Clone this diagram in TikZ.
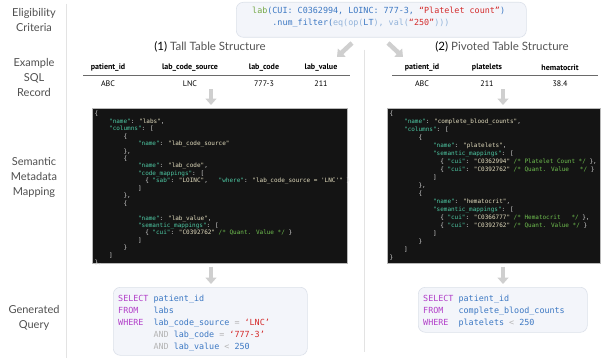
\documentclass[tikz,border=0pt]{standalone}
\usepackage{fontspec}
\setmainfont{Lato}
\newfontfamily\codefont{DejaVu Sans Mono}
\newfontfamily\tabfont{PT Sans}
\usetikzlibrary{arrows.meta}

\definecolor{labelgray}{HTML}{505050}
\definecolor{titlegray}{HTML}{555555}
\definecolor{rulegray}{HTML}{E3E3E3}
\definecolor{tablerule}{HTML}{6A6A6A}
\definecolor{arrowgray}{HTML}{CFCFCF}
\definecolor{boxfill}{HTML}{F3F5FA}
\definecolor{boxline}{HTML}{DCE1EA}
\definecolor{darkbg}{HTML}{141414}
\definecolor{jsonedge}{HTML}{B8B8B8}
\definecolor{jkey}{HTML}{4EC9A4}
\definecolor{jstr}{HTML}{E3DDBE}
\definecolor{jpunct}{HTML}{DADADA}
\definecolor{jcomm}{HTML}{6FBF4F}
\definecolor{qkw}{HTML}{B23FC9}
\definecolor{qid}{HTML}{3C78C3}
\definecolor{qstr}{HTML}{D42A2A}
\definecolor{qdim}{HTML}{B5B5B5}
\definecolor{qlight}{HTML}{92B3DA}
\definecolor{qgreen}{HTML}{74A846}

% code helpers
\newcommand\pad[1]{\hspace*{#1\fontcharwd\font`0}}
\newcommand\jk[1]{\textcolor{jkey}{"#1"}}
\newcommand\js[1]{\textcolor{jstr}{"#1"}}
\newcommand\jc[1]{\textcolor{jcomm}{#1}}
\newcommand\sq{\textquotesingle}
\newcommand\kw[1]{\textcolor{qkw}{#1}}
\newcommand\qi[1]{\textcolor{qid}{#1}}
\newcommand\qd[1]{\textcolor{qdim}{#1}}
\newcommand\qs[1]{\textcolor{qstr}{#1}}

\tikzset{
  rowlabel/.style={font=\fontsize{11}{15}\selectfont, text=labelgray, align=center, inner sep=0pt},
  tabletitle/.style={font=\fontsize{11.5}{13}\selectfont, text=titlegray, inner sep=0pt},
  colhead/.style={font=\tabfont\bfseries\fontsize{8}{9}\selectfont, inner sep=0pt},
  celltext/.style={font=\tabfont\fontsize{8}{9}\selectfont, inner sep=0pt},
  fatarrow/.style={draw=arrowgray, line width=4.5pt, -{Triangle[width=11pt,length=6.5pt]}},
  codebox/.style={draw=boxline, fill=boxfill, rounded corners=7pt, line width=0.6pt, inner sep=0pt, anchor=north west},
  jsonbox/.style={draw=jsonedge, fill=darkbg, line width=0.5pt, inner sep=0pt, anchor=north west},
  jsontext/.style={text=jpunct, align=left, inner sep=0pt, anchor=north west},
  sqltext/.style={font=\codefont\fontsize{8.4}{12.2}\selectfont, align=left, inner sep=0pt, anchor=north west},
}

\begin{document}
\begin{tikzpicture}[x=1pt,y=-1pt]
  \useasboundingbox[fill=white] (0,0) rectangle (604,361);

  % row labels and dividers
  \node[rowlabel] (lblcrit) at (34,20) {Eligibility\\Criteria};
  \node[rowlabel] (lblrec) at (34,77) {Example\\SQL\\Record};
  \node[rowlabel] (lblmap) at (34,177) {Semantic\\Metadata\\Mapping};
  \node[rowlabel] (lblquery) at (34,318) {Generated\\Query};
  \draw[rulegray, line width=0.6pt] (66,4) -- (66,358);
  \draw[rulegray, line width=0.6pt] (364,50) -- (364,352);

  % eligibility criterion
  \node[codebox, minimum width=290pt, minimum height=35pt] (critbox) at (236,2) {};
  \node[sqltext] (crit) at (252,6.5) {%
    \textcolor{qgreen}{lab}\qi{(CUI: C0362994, LOINC: 777-3, }\qs{“Platelet count”}\qi{)}\\
    \pad{4}\qi{.num\_filter(}\textcolor{qlight}{eq(op(}\qi{LT}\textcolor{qlight}{), val(}\qs{“250”}\textcolor{qlight}{)))}};

  \coordinate (splitL) at (352,43);
  \coordinate (splitR) at (388,43);
  \draw[fatarrow] (splitL) -- (337,57);
  \draw[fatarrow] (splitR) -- (403,57);

  % (1) tall table
  \node[tabletitle] (talltitle) at (210,47) {\textcolor{black}{(1)} Tall Table Structure};
  \node[colhead] (tallh1) at (108,68) {patient\_id};
  \node[colhead] (tallh2) at (190,68) {lab\_code\_source};
  \node[colhead] (tallh3) at (264,68) {lab\_code};
  \node[colhead] (tallh4) at (321,68) {lab\_value};
  \draw[tablerule, line width=0.6pt] (83,75) -- (350,75);
  \node[celltext] (tallc1) at (108,84) {ABC};
  \node[celltext] (tallc2) at (190,84) {LNC};
  \node[celltext] (tallc3) at (264,84) {777-3};
  \node[celltext] (tallc4) at (321,84) {211};

  \node[jsonbox, minimum width=255pt, minimum height=155pt] (tallmap) at (92,108) {};
  \node[jsontext, font=\codefont\fontsize{6}{7.45}\selectfont] (talljson) at (94.5,111) {%
    \{\\
    \pad{4}\jk{name}: \js{labs},\\
    \pad{4}\jk{columns}: [\\
    \pad{8}\{\\
    \pad{12}\jk{name}: \js{lab\_code\_source}\\
    \pad{8}\},\\
    \pad{8}\{\\
    \pad{12}\jk{name}: \js{lab\_code},\\
    \pad{12}\jk{code\_mappings}: [\\
    \pad{14}\{ \jk{sab}: \js{LOINC},\pad{3}\jk{where}: \js{lab\_code\_source = \sq LNC\sq} \}\\
    \pad{12}]\\
    \pad{8}\},\\
    \pad{8}\{\\
    \mbox{}\\
    \pad{12}\jk{name}: \js{lab\_value},\\
    \pad{12}\jk{semantic\_mappings}: [\\
    \pad{14}\{ \jk{cui}: \js{C0392762} \jc{/* Quant. Value */} \}\\
    \pad{12}]\\
    \pad{8}\}\\
    \pad{4}]\\
    \},};

  \node[codebox, minimum width=194pt, minimum height=68pt] (tallquery) at (113,287) {};
  \node[sqltext] (tallsql) at (118,294.5) {%
    \kw{SELECT} \qi{patient\_id}\\
    \kw{FROM}\pad{3}\qi{labs}\\
    \kw{WHERE}\pad{2}\qi{lab\_code\_source} \qd{=} \qs{‘LNC’}\\
    \pad{7}\qd{AND} \qi{lab\_code} \qd{=} \qs{‘777-3’}\\
    \pad{7}\qd{AND} \qi{lab\_value} \qd{<} \qi{250}};

  \coordinate (tallaxis) at (211,89);
  \draw[fatarrow] (tallaxis) -- ([yshift=3pt]tallaxis |- tallmap.north);
  \draw[fatarrow] ([yshift=-3pt]tallaxis |- tallmap.south) -- ([yshift=3pt]tallaxis |- tallquery.north);

  % (2) pivoted table
  \node[tabletitle] (pivtitle) at (502,47) {\textcolor{black}{(2)} Pivoted Table Structure};
  \node[colhead] (pivh1) at (422,68) {patient\_id};
  \node[colhead] (pivh2) at (487,68) {platelets};
  \node[colhead] (pivh3) at (560,68) {hematocrit};
  \draw[tablerule, line width=0.6pt] (392,75) -- (598,75);
  \node[celltext] (pivc1) at (422,84) {ABC};
  \node[celltext] (pivc2) at (487,84) {211};
  \node[celltext] (pivc3) at (560,84) {38.4};

  \node[jsonbox, minimum width=213pt, minimum height=155pt] (pivmap) at (387,108) {};
  \node[jsontext, font=\codefont\fontsize{6}{7.96}\selectfont] (pivjson) at (389.5,111) {%
    \{\\
    \pad{4}\jk{name}: \js{complete\_blood\_counts},\\
    \pad{4}\jk{columns}: [\\
    \pad{8}\{\\
    \pad{12}\jk{name}: \js{platelets},\\
    \pad{12}\jk{semantic\_mappings}: [\\
    \pad{14}\{ \jk{cui}: \js{C0362994} \jc{/* Platelet Count */} \},\\
    \pad{14}\{ \jk{cui}: \js{C0392762} \jc{/* Quant. Value\pad{3}*/} \}\\
    \pad{12}]\\
    \pad{8}\},\\
    \pad{8}\{\\
    \pad{12}\jk{name}: \js{hematocrit},\\
    \pad{12}\jk{semantic\_mappings}: [\\
    \pad{14}\{ \jk{cui}: \js{C0366777} \jc{/* Hematocrit\pad{3}*/} \},\\
    \pad{14}\{ \jk{cui}: \js{C0392762} \jc{/* Quant. Value */} \}\\
    \pad{12}]\\
    \pad{8}\}\\
    \pad{4}]\\
    \}};

  \node[codebox, minimum width=169pt, minimum height=45pt] (pivquery) at (418,287) {};
  \node[sqltext] (pivsql) at (423,294.5) {%
    \kw{SELECT} \qi{patient\_id}\\
    \kw{FROM}\pad{3}\qi{complete\_blood\_counts}\\
    \kw{WHERE}\pad{2}\qi{platelets} \qd{<} \qi{250}};

  \coordinate (pivaxis) at (503,89);
  \draw[fatarrow] (pivaxis) -- ([yshift=3pt]pivaxis |- pivmap.north);
  \draw[fatarrow] ([yshift=-3pt]pivaxis |- pivmap.south) -- ([yshift=3pt]pivaxis |- pivquery.north);
\end{tikzpicture}
\end{document}
